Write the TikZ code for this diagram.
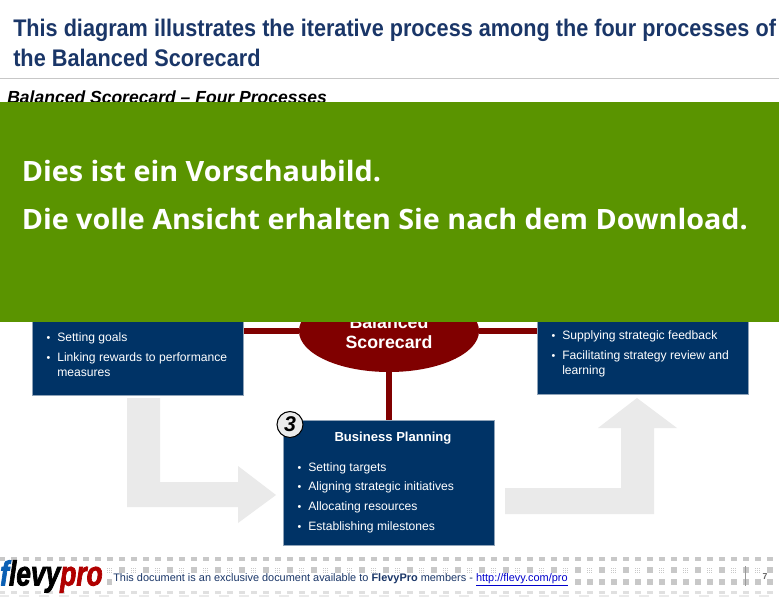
\documentclass[tikz,border=0pt]{standalone}
\usepackage{fontspec}
\usepackage{graphicx}
\usetikzlibrary{shapes.geometric}
\setmainfont{Liberation Sans}
\newfontfamily\bandfont{Open Sans}
\newfontfamily\logofont[BoldItalicFeatures={FakeBold=2.5}]{Liberation Sans}
\definecolor{navy}{HTML}{003366}
\definecolor{titleblue}{HTML}{1A3668}
\definecolor{maroon}{HTML}{800000}
\definecolor{bandgreen}{HTML}{5A9400}
\definecolor{arrowgrey}{HTML}{EAEAEA}
\definecolor{dotgrey}{HTML}{C8C8C8}
\definecolor{boxedge}{HTML}{8FA3B8}
\newcommand{\bul}{\makebox[0pt][r]{\raisebox{0.3pt}{\fontsize{8}{8}\selectfont\textbullet}\hspace{5.2pt}}}
\newcommand{\fitw}[2]{\resizebox{#1}{\height}{#2}}
\tikzset{
  x=0.75pt,y=-0.75pt,
  panel/.style={fill=navy,draw=boxedge,line width=0.7pt,rectangle,inner sep=0pt,anchor=north west},
  link/.style={draw=maroon,line width=3.9pt},
  bigarrow/.style={fill=arrowgrey,draw=none},
  bodytext/.style={text=white,font=\fontsize{9.1}{11.2}\selectfont,anchor=west,inner sep=0pt,align=left},
  boxhead/.style={text=white,font=\fontsize{9.8}{11}\selectfont\bfseries,inner sep=0pt},
  titletext/.style={text=titleblue,font=\fontsize{18}{22.4}\selectfont\bfseries,anchor=north west,inner sep=0pt,align=left},
  bandtext/.style={text=white,font=\bandfont\fontsize{21}{28}\selectfont\bfseries,anchor=west,inner sep=0pt},
  foot/.style={font=\fontsize{8.2}{10}\selectfont,inner sep=0pt,anchor=west},
  tile/.style={fill=dotgrey,draw=none}
}
\begin{document}
\begin{tikzpicture}
\useasboundingbox (0,0) rectangle (779,597);
\fill[white] (0,0) rectangle (779,597);
% header
\node[titletext] (title) at (13,18.5) {\fitw{572pt}{This diagram illustrates the iterative process among the four processes of}\\\fitw{185.5pt}{the Balanced Scorecard}};
\draw[draw=black!22,line width=0.7pt] (0,78.5) -- (779,78.5);
\node[text=black,font=\fontsize{13.15}{14}\selectfont\bfseries\itshape,anchor=west,inner sep=0pt] (sub) at (7,97) {Balanced Scorecard – Four Processes};
% big grey arrows
\fill[bigarrow] (127,398) -- (160,398) -- (160,482) -- (238,482) -- (238,466) -- (276,495) -- (238,523) -- (238,507) -- (127,507) -- cycle;
\fill[bigarrow] (505,488) -- (621,488) -- (621,428) -- (598,428) -- (637,398) -- (677,428) -- (654,428) -- (654,514) -- (505,514) -- cycle;
% boxes
\node[panel,minimum width=158.6pt,minimum height=109pt] (left) at (32,250) {};
\node[panel,minimum width=158.6pt,minimum height=108pt] (right) at (537,250) {};
\node[panel,minimum width=158.6pt,minimum height=94pt] (bottom) at (283,420) {};
\node[ellipse,fill=maroon,draw=none,minimum width=135pt,minimum height=61.5pt,inner sep=0pt] (centre) at (389,331) {};
% connectors
\draw[link] (centre.west) -- (centre.west -| left.east);
\draw[link] (centre.east) -- (centre.east -| right.west);
\draw[link] (centre.south) -- (centre.south |- bottom.north);
% centre text
\node[text=white,font=\fontsize{13.3}{15.2}\selectfont\bfseries,align=center,inner sep=0pt] (centretext) at (389,332.5) {Balanced\\Scorecard};
% left box text
\node[bodytext] (l1) at (57,338.5) {\bul Setting goals};
\node[bodytext] (l2) at (57,365) {\bul Linking rewards to performance\\measures};
% right box text
\node[bodytext] (r1) at (562,336.5) {\bul Supplying strategic feedback};
\node[bodytext] (r2) at (562,364) {\bul Facilitating strategy review and\\learning};
% bottom box text
\node[boxhead] (bhead) at (393,438) {Business Planning};
\node[bodytext] (b1) at (308,468.5) {\bul Setting targets};
\node[bodytext] (b2) at (308,487.5) {\bul Aligning strategic initiatives};
\node[bodytext] (b3) at (308,507.5) {\bul Allocating resources};
\node[bodytext] (b4) at (308,527.5) {\bul Establishing milestones};
% badge
\node[circle,fill=black!8,draw=black,line width=0.8pt,minimum size=19.5pt,inner sep=0pt,font=\fontsize{16}{16}\selectfont\bfseries\itshape] (badge) at (290,424.5) {3};
% footer tiles
\foreach \k in {0,...,64} {
  \fill[tile] ({-1+12*\k},557) rectangle ++(6,4);
  \fill[tile] ({-1+12*\k},579) rectangle ++(6,6);
  \fill[tile,opacity=.55] ({-1+12*\k},591) rectangle ++(6,3);
  \fill[arrowgrey] ({-1+20*\k},595) rectangle ++(10,2);
}
\foreach \k in {0,...,32} {
  \fill[tile] ({-1+24*\k},567) rectangle ++(6,6);
  \foreach \a in {0,2,4} \foreach \b in {0,2,4}
    \fill[tile] ({11+24*\k+\a},{568+\b}) rectangle ++(1,1);
}
% footer
\fill[white] (0,563) rectangle (107,591);
\fill[white] (112,574) rectangle (569.5,587);
\node[inner sep=0pt,anchor=west,xscale=0.76,font=\logofont\fontsize{26}{26}\selectfont\bfseries\itshape] (logo) at (0,576.5) {\textcolor[HTML]{0A5FB4}{f}\textcolor{black}{levy}\textcolor[HTML]{B00000}{pro}};
\node[foot,text=titleblue] (foottext) at (113,580) {This document is an exclusive document available to \textbf{FlevyPro} members - \textcolor[HTML]{0000CC}{\underline{http://flevy.com/pro}}};
\draw[draw=black!40,line width=1pt] (745.5,566) -- (745.5,586);
\node[inner sep=0pt,font=\fontsize{6.5}{7}\selectfont\bfseries,text=black!60] (pagenum) at (765,577) {7};
% preview band
\fill[bandgreen] (0,102) rectangle (779,322);
\node[bandtext] (band1) at (21.5,171) {\fitw{269.5pt}{Dies ist ein Vorschaubild.}};
\node[bandtext] (band2) at (21.5,219) {\fitw{544.5pt}{Die volle Ansicht erhalten Sie nach dem Download.}};
\end{tikzpicture}
\end{document}
